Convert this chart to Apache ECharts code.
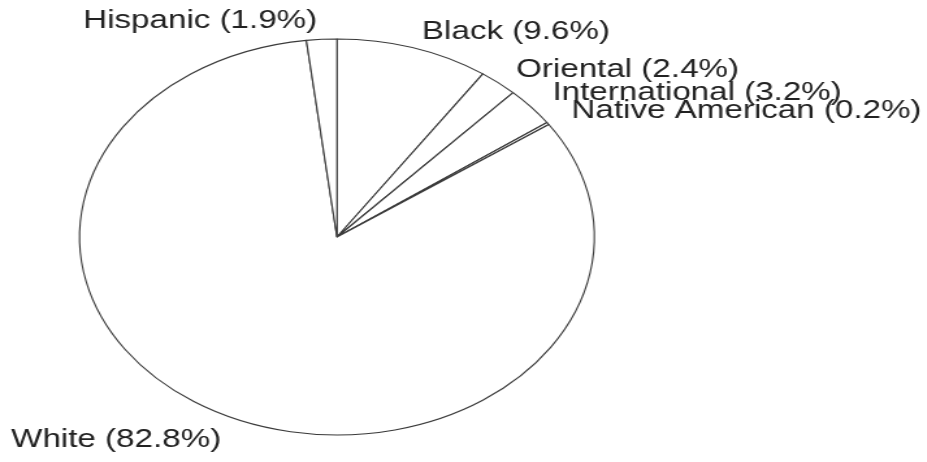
<!DOCTYPE html>
<html>
<head>
<meta charset="utf-8">
<script src="https://cdn.jsdelivr.net/npm/echarts@6/dist/echarts.min.js"></script>
<style>
html,body{margin:0;padding:0;background:#fff;overflow:hidden;width:927px;height:462px;}
#wrap{position:absolute;left:0;top:0;width:927px;height:462px;overflow:hidden;}
#chart{position:absolute;left:0;top:0;width:713.08px;height:462px;transform:scaleX(1.3);transform-origin:0 0;}
</style>
</head>
<body>
<div id="wrap"><div id="chart"></div></div>
<script>
// Data (clockwise from 12 o'clock)
const categories = ['Black', 'Oriental', 'International', 'Native American', 'White', 'Hispanic'];
const shares = [9.6, 2.4, 3.2, 0.2, 82.8, 1.9];

// Label anchor positions (unscaled chart pixels: left x, middle y)
const labelPos = [
  [324.6, 32.0],
  [397.0, 70.0],
  [425.0, 93.0],
  [439.6, 111.0],
  [8.6, 440.0],
  [64.0, 21.0]
];

const chart = echarts.init(document.getElementById('chart'), null, {renderer: 'canvas'});
chart.setOption({
  animation: false,
  backgroundColor: '#fff',
  series: [{
    type: 'pie',
    center: [259.2, 237],
    radius: 198,
    startAngle: 90,
    clockwise: true,
    avoidLabelOverlap: false,
    itemStyle: {color: '#fff', borderColor: '#3a3a3a', borderWidth: 1.1},
    emphasis: {disabled: true},
    label: {
      show: true,
      position: 'outside',
      formatter: p => p.name + ' (' + p.value.toFixed(1) + '%)',
      fontFamily: '"Liberation Sans", Arial, Helvetica, sans-serif',
      fontSize: 25.5,
      color: '#222'
    },
    labelLine: {show: false},
    labelLayout: p => ({
      x: labelPos[p.dataIndex][0],
      y: labelPos[p.dataIndex][1],
      align: 'left',
      verticalAlign: 'middle',
      hideOverlap: false
    }),
    data: categories.map((c, i) => ({name: c, value: shares[i]}))
  }]
});
</script>
</body>
</html>
